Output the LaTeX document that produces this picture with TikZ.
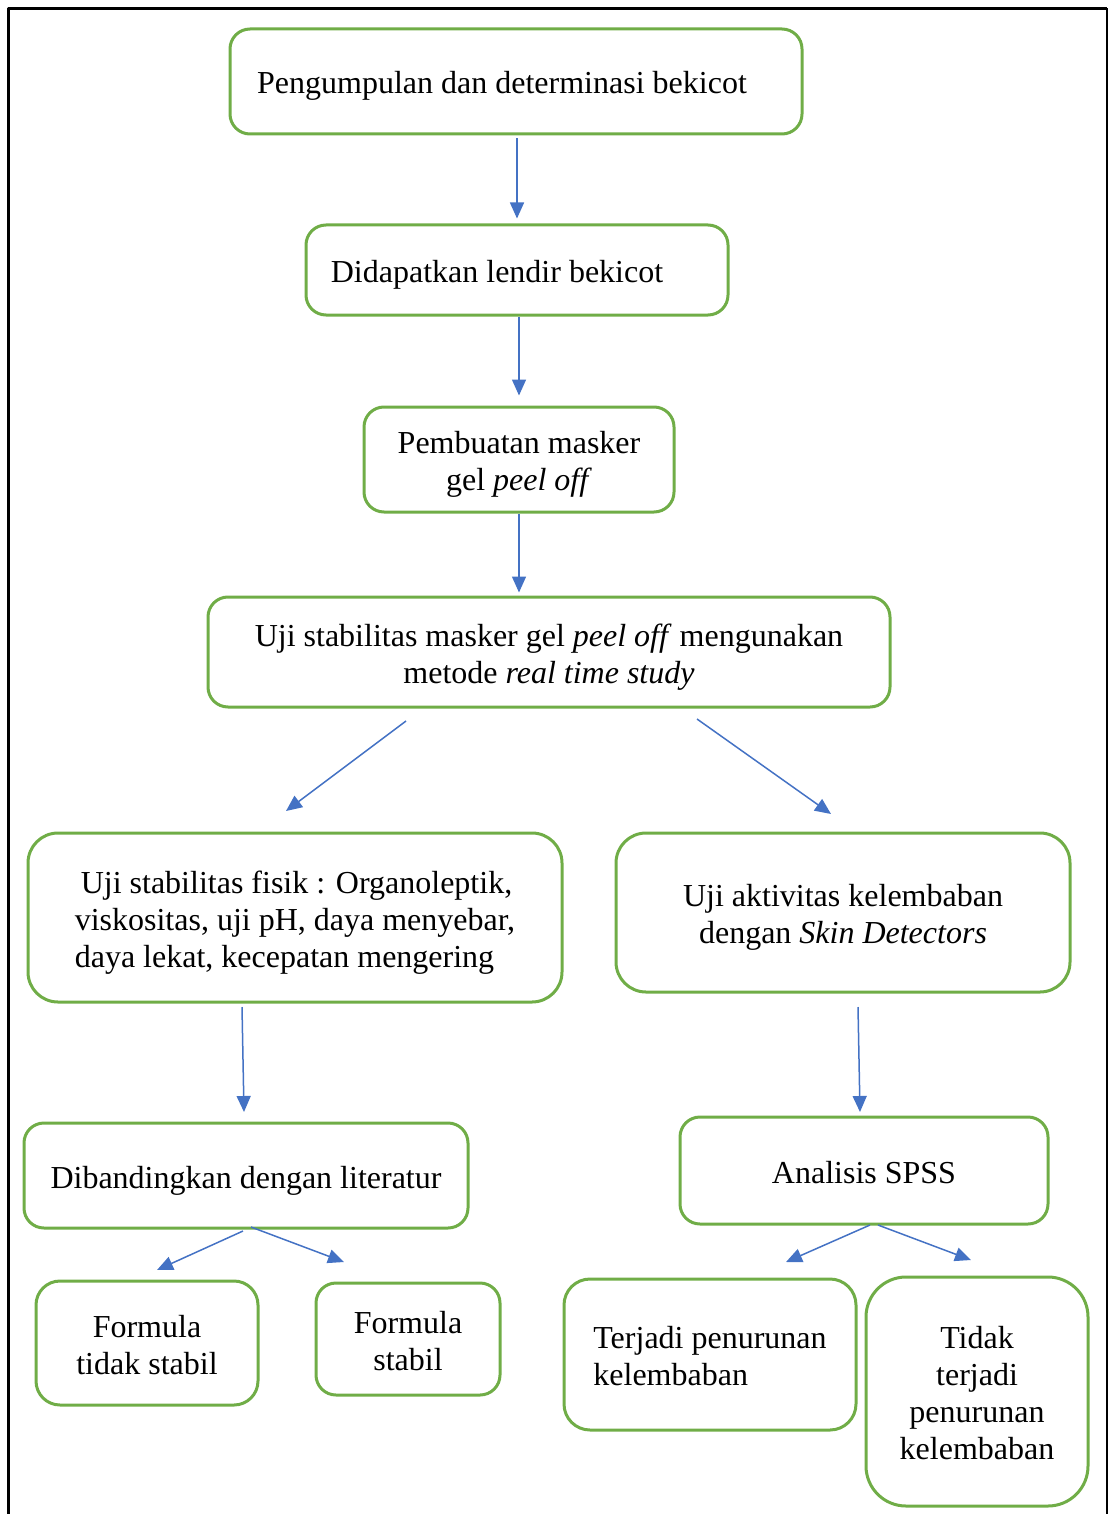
\documentclass[tikz,border=0pt]{standalone}
\usepackage{fontspec}
\setmainfont{Liberation Serif}
\usetikzlibrary{arrows.meta}
\definecolor{boxgreen}{HTML}{70AD47}
\definecolor{arrowblue}{HTML}{4472C4}
\begin{document}
\begin{tikzpicture}[x=0.5pt,y=-0.5pt,font=\fontsize{16}{18.5}\selectfont,line join=round,
 box/.style={draw=boxgreen,line width=1.5pt,rounded corners=10pt,inner sep=0pt,align=center,text height=16pt,text depth=3.5pt},
 two/.style={text height=34.5pt}, three/.style={text height=53pt}, four/.style={text height=71.5pt},
 arr/.style={draw=arrowblue,line width=0.75pt,-{Triangle[length=8pt,width=7pt]}}]
 \useasboundingbox (0,0) rectangle (1108,1514);
 % frame
 \draw[line width=1.5pt] (8.5,1514) -- (8.5,8.5) -- (1106.5,8.5);
 \draw[line width=1pt] (1106.5,8.5) -- (1106.5,1514);
 % boxes
 \node[box,minimum width=286pt,minimum height=52.5pt] (b1) at (516,81.5) {Pengumpulan dan determinasi bekicot\hspace{14pt}};
 \node[box,minimum width=211pt,minimum height=45pt] (b2) at (517,270) {Didapatkan lendir bekicot\hspace{20pt}};
 \node[box,two,minimum width=155pt,minimum height=52.5pt] (b3) at (519,459.5) {Pembuatan masker\\gel \textit{peel off}};
 \node[box,two,minimum width=341pt,minimum height=55pt] (b4) at (549,652) {Uji stabilitas masker gel \textit{peel off} mengunakan\\metode \textit{real time study}};
 \node[box,three,rounded corners=15pt,minimum width=267pt,minimum height=84.5pt,align=left] (b5) at (295,917.5) {\hspace{3pt}Uji stabilitas fisik : Organoleptik,\\viskositas, uji pH, daya menyebar,\\daya lekat, kecepatan mengering};
 \node[box,two,rounded corners=15pt,minimum width=227pt,minimum height=79.5pt] (b6) at (843,912.5) {Uji aktivitas kelembaban\\dengan \textit{Skin Detectors}};
 \node[box,minimum width=222pt,minimum height=52.5pt] (b7) at (246,1175.5) {Dibandingkan dengan literatur};
 \node[box,minimum width=184pt,minimum height=53.5pt] (b8) at (864,1170.5) {Analisis SPSS};
 \node[box,two,rounded corners=12pt,minimum width=111pt,minimum height=62pt] (b9) at (147,1343) {Formula\\tidak stabil};
 \node[box,two,minimum width=92pt,minimum height=56pt] (b10) at (408,1339) {Formula\\stabil};
 \node[box,two,rounded corners=13pt,minimum width=146pt,minimum height=75.5pt,align=left] (b11) at (710,1354.5) {Terjadi penurunan\\kelembaban};
 \node[box,four,rounded corners=20pt,minimum width=111pt,minimum height=114.5pt] (b12) at (977,1391.5) {Tidak\\terjadi\\penurunan\\kelembaban};
 % free ends of the slanted arrows
 \coordinate (s4l) at (406,721); \coordinate (e5) at (286,811);
 \coordinate (s4r) at (697,719); \coordinate (e6) at (831,814);
 \coordinate (s5) at (242,1007); \coordinate (e7) at (244,1112);
 \coordinate (s6) at (858,1007); \coordinate (e8) at (860,1112);
 \coordinate (s7l) at (243,1231); \coordinate (e9) at (157,1270);
 \coordinate (s7r) at (251,1227); \coordinate (e10) at (344,1262);
 \coordinate (s8l) at (870,1225); \coordinate (e11) at (786,1262);
 \coordinate (s8r) at (878,1225); \coordinate (e12) at (971,1260);
 % arrows
 \draw[arr,shorten <=1.5pt,shorten >=2.5pt] (b1.south -| b2.north) -- (b2.north);
 \draw[arr,shorten >=5pt] (b2.south -| b3.north) -- (b3.north);
 \draw[arr,shorten >=1.5pt] (b3.south) -- (b3.south |- b4.north);
 \foreach \a/\b in {s4l/e5,s4r/e6,s5/e7,s6/e8,s7l/e9,s7r/e10,s8l/e11,s8r/e12}
  \draw[arr] (\a) -- (\b);
\end{tikzpicture}
\end{document}
